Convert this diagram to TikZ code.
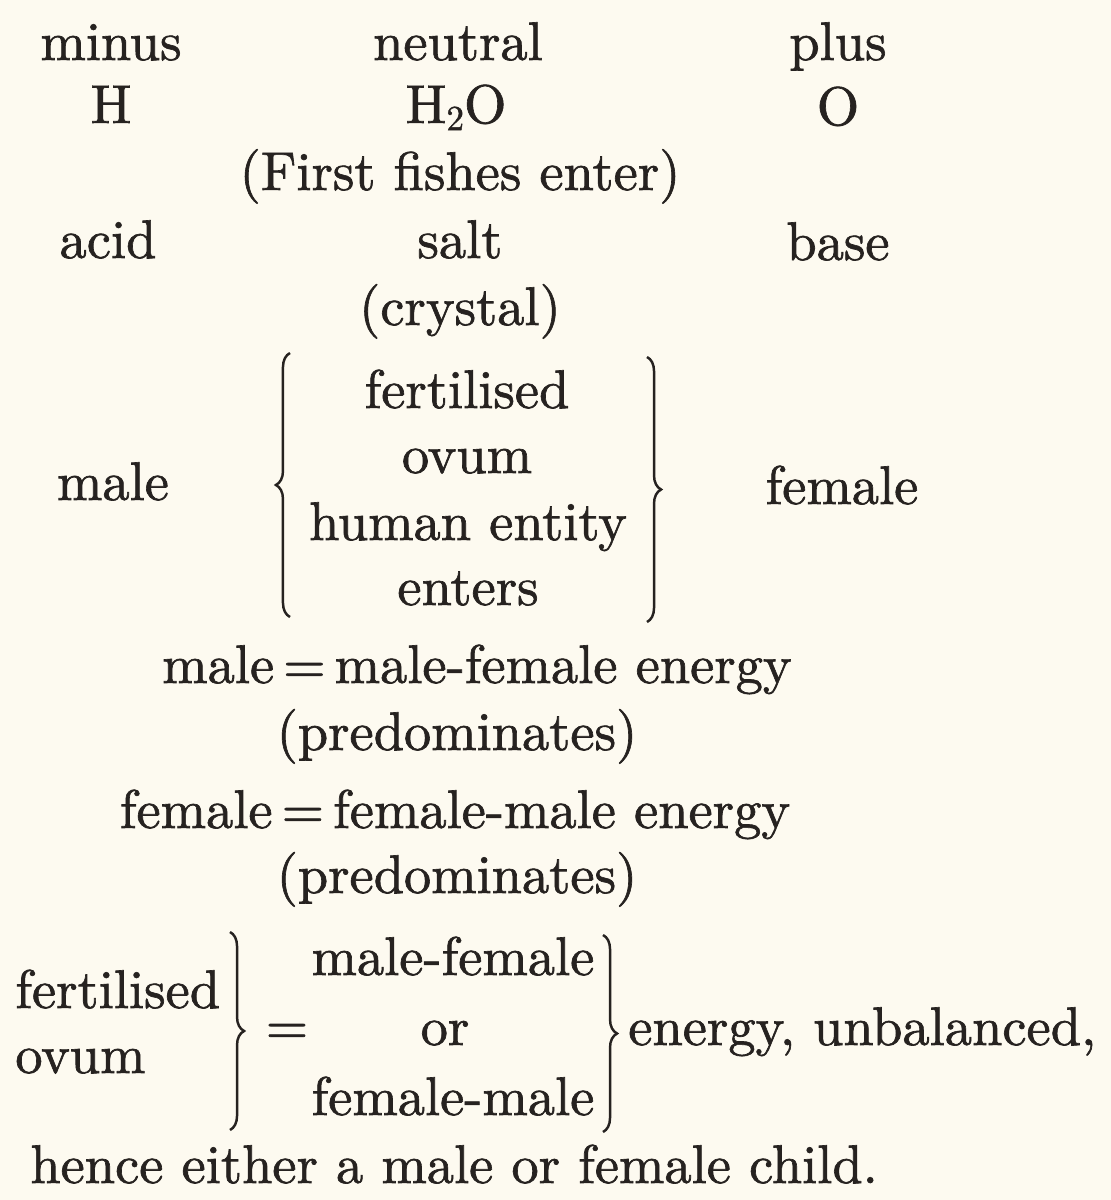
\documentclass[tikz,border=0pt]{standalone}
\usepackage{fontspec}
\definecolor{ink}{RGB}{38,34,32}
\definecolor{paper}{RGB}{253,250,240}
\usepackage{tikz}
\usetikzlibrary{decorations.pathreplacing,calc}
\newfontfamily\oldfont{lmroman10-regular}[Extension=.otf,FakeBold=1.2]
\newcommand{\txtsize}{\oldfont\fontsize{31}{36}\selectfont}

\begin{document}
\begin{tikzpicture}[x=0.02cm,y=-0.02cm,
      lbl/.style={font=\txtsize,text=ink,inner sep=0pt,anchor=base},
      br/.style={draw=ink,line width=1.4pt,
                 decorate,decoration={brace,amplitude=8pt}}]
      \fill[paper] (0,0) rectangle (1111,1200);
      \useasboundingbox (0,0) rectangle (1111,1200);
      % three columns
      \node[lbl] (minus) at (111,60) {minus};
      \node[lbl] (neutral) at (458,60) {neutral};
      \node[lbl] (plus) at (838,60) {plus};
      \node[lbl] (h) at (111,123) {H};
      \node[lbl] (water) at (456,123) {H\raisebox{-0.3ex}{\fontsize{20}{22}\selectfont 2}O};
      \node[lbl] (o) at (838,125) {O};
      \node[lbl] (fishes) at (460,190) {(First fishes enter)};
      \node[lbl] (acid) at (108,258) {acid};
      \node[lbl] (salt) at (460,258) {salt};
      \node[lbl] (base) at (838,260) {base};
      \node[lbl] (crystal) at (460,325) {(crystal)};
      % braced group
      \node[lbl] (male) at (113,500) {male};
      \node[lbl] (female) at (842,504) {female};
      \node[lbl] (fert) at (467,408) {fertilised};
      \node[lbl] (ovum) at (467,473) {ovum};
      \node[lbl] (human) at (468,540) {human entity};
      \node[lbl] (enters) at (468,605) {enters};
      \coordinate (lt) at (290,353);
      \coordinate (lb) at (290,617);
      \coordinate (rt) at (647,357);
      \coordinate (rb) at (647,622);
      \draw[br] (lb) -- (lt);
      \draw[br] (rt) -- (rb);
      % energies
      \node[lbl] (meq) at (477,683) {male\,=\,male-female energy};
      \node[lbl] (mpre) at (457,750) {(predominates)};
      \node[lbl] (feq) at (455,828) {female\,=\,female-male energy};
      \node[lbl] (fpre) at (457,893) {(predominates)};
      % bottom part
      \node[lbl,anchor=base west] (fert2) at (15,1008) {fertilised};
      \node[lbl,anchor=base west] (ovum2) at (15,1073) {ovum};
      \node[lbl] (eq) at (287,1044) {=};
      \node[lbl] (mf) at (453,975) {male-female};
      \node[lbl] (or) at (445,1045) {or};
      \node[lbl] (fm) at (453,1115) {female-male};
      \node[lbl,anchor=base west] (unbal) at (628,1045) {energy, unbalanced,};
      \coordinate (b1t) at (230,932);
      \coordinate (b1b) at (230,1130);
      \coordinate (b2t) at (603,935);
      \coordinate (b2b) at (603,1132);
      \draw[br] (b1t) -- (b1b);
      \draw[br] (b2t) -- (b2b);
      \node[lbl,anchor=base west] (hence) at (30,1183) {hence either a male or female child.};
    \end{tikzpicture}
\end{document}
